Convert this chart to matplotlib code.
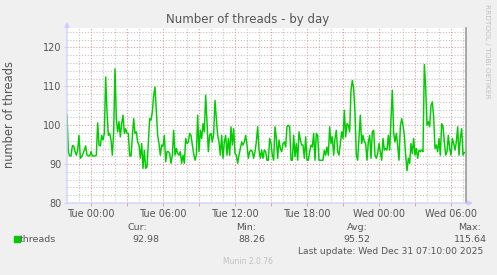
import numpy as np
import matplotlib
matplotlib.use('agg')
import matplotlib.pyplot as plt

# threads, sampled every 1/9 h starting two hours before Tue 00:00
threads = [
    102.7, 93.2, 92.1, 92.1, 94.7, 94.7, 93.2, 92.3, 93.6, 97.4,
    91.5, 91.9, 92.7, 93.6, 94.7, 92.3, 92.1, 92.1, 93.2, 92.1,
    92.1, 92.1, 92.3, 100.6, 94.9, 94.7, 97.4, 96.2, 97.9, 112.4,
    103.4, 97.4, 97.9, 96.2, 92.3, 98.3, 114.5, 101.7, 98.3, 100.9,
    97.0, 100.4, 102.6, 97.9, 99.1, 97.9, 97.9, 92.1, 92.1, 97.0,
    101.7, 97.9, 98.3, 95.7, 94.9, 91.5, 95.3, 88.9, 93.6, 88.9,
    89.3, 95.7, 101.7, 101.3, 103.4, 107.7, 109.8, 103.8, 97.4, 95.3,
    92.3, 94.9, 94.5, 97.4, 90.6,
    93.2, 93.2, 92.7, 90.2, 92.3, 98.7, 92.3, 94.0, 92.7, 92.3,
    93.2, 90.2, 92.3, 90.2, 96.6, 95.3, 95.7, 97.9, 97.4, 94.9,
    92.7, 91.0, 92.3, 102.6, 93.2, 98.7, 96.6, 100.4, 98.3, 107.7,
    100.9, 93.2, 97.4, 97.9, 95.7, 97.9, 106.4, 101.7, 97.4, 95.7,
    92.3, 97.4, 91.5, 95.7, 97.4, 92.3, 96.6, 92.3, 99.6, 94.9,
    99.1, 92.7, 92.3, 90.2, 92.3, 94.0, 95.7, 94.9, 95.7, 97.4,
    94.9, 91.5, 93.2, 93.6, 93.2, 91.5, 93.2, 95.7, 99.6, 93.6,
    91.5, 93.6, 91.5, 93.6, 93.2,
    91.0, 91.0, 96.6, 95.3, 92.3, 91.0, 99.6, 96.6, 91.5, 96.2,
    94.0, 93.2, 95.3, 95.7, 94.4, 99.6, 100.0, 99.6, 91.0, 91.0,
    97.4, 91.9, 95.3, 91.0, 98.3, 96.2, 94.9, 94.9, 91.5, 97.0,
    91.0, 91.0, 93.2, 94.9, 94.4, 97.9, 91.0, 97.9, 97.4, 91.0,
    91.0, 91.0, 91.0, 93.6, 92.3, 94.4, 92.3, 99.6, 95.3, 97.0,
    92.3, 96.6, 98.7, 93.2, 92.3, 95.3, 98.3, 96.6, 103.8, 97.0,
    100.4, 100.0, 98.3, 109.0, 111.5, 109.4, 103.0, 92.3, 91.0, 96.6,
    102.6, 95.3, 97.4, 95.7, 95.3,
    91.0, 95.7, 97.4, 91.5, 98.3, 98.7, 92.3, 91.5, 92.7, 95.3,
    93.2, 91.0, 96.6, 93.6, 94.0, 93.6, 97.4, 93.6, 101.7, 109.0,
    97.9, 95.7, 97.9, 94.9, 91.0, 99.6, 101.7, 100.0, 97.4, 92.3,
    88.3, 91.5, 90.2, 95.3, 92.7, 96.6, 92.3, 94.0, 91.5, 93.6,
    93.2, 93.6, 93.2, 115.6, 109.8, 100.0, 100.9, 99.6, 105.1, 106.0,
    102.1, 94.0, 94.9, 93.2, 96.6, 92.3, 100.4, 99.6, 95.7, 92.3,
    93.2, 97.4, 94.0, 92.3, 96.6, 95.3, 93.6, 95.7, 99.6, 92.3,
    96.6, 99.1, 92.3, 93.0,
]
start_hour = -2.0
step_hour = 1 / 9
tick_hours = [0, 6, 12, 18, 24, 30]
tick_labels = ['Tue 00:00', 'Tue 06:00', 'Tue 12:00', 'Tue 18:00', 'Wed 00:00', 'Wed 06:00']
legend_heads = ['Cur:', 'Min:', 'Avg:', 'Max:']
legend_values = ['92.98', '88.26', '95.52', '115.64']

hours = start_hour + step_hour * np.arange(len(threads))

bg = '#F0F0F0'
txt = '#555555'
axis_col = '#CCCCFF'
minor_col = '#C4C4C4'
major_col = '#DC9C9C'

fig = plt.figure(figsize=(4.97, 2.75), dpi=100)
fig.patch.set_facecolor(bg)
ax = fig.add_axes([67 / 497, 72 / 275, 399 / 497, 175 / 275])
ax.set_facecolor('white')

ax.set_xlim(-2, 31.25)
ax.set_ylim(80, 125)

# grid: minor grey every hour / 2 threads, major red every 3 hours / 10 threads
dots = (0, (1, 1.6))
for h in np.arange(-1, 32, 1):
    if h % 3 != 0:
        ax.axvline(h, color=minor_col, lw=0.8, ls=dots, zorder=1)
for v in np.arange(82, 125, 2):
    if v % 10 != 0:
        ax.axhline(v, color=minor_col, lw=0.8, ls=dots, zorder=1)
for h in np.arange(0, 32, 3):
    ax.axvline(h, color=major_col, lw=0.8, ls=dots, zorder=1)
for v in [90, 100, 110, 120]:
    ax.axhline(v, color=major_col, lw=0.8, ls=dots, zorder=1)

ax.plot(hours, threads, color='#00CC00', lw=1.05, zorder=3)

ax.spines['top'].set_visible(False)
ax.spines['left'].set_visible(False)
ax.spines['bottom'].set_visible(False)
ax.spines['right'].set_color('#999999')
ax.spines['right'].set_linewidth(1.2)

ax.set_xticks(np.arange(0, 32, 3))
ax.set_xticklabels([tick_labels[tick_hours.index(h)] if h in tick_hours else '' for h in range(0, 32, 3)])
ax.set_yticks([80, 90, 100, 110, 120])
ax.tick_params(axis='both', colors=major_col, length=2, width=0.7, labelsize=7.0,
               labelcolor=txt, pad=2)
ax.tick_params(axis='y', colors=axis_col, labelcolor=txt)

# axes with arrows, drawn in figure pixels
ax.annotate('', xy=(67 / 497, 1 - 22 / 275), xycoords='figure fraction',
            xytext=(67 / 497, 1 - 203 / 275),
            arrowprops=dict(arrowstyle='-|>', color=axis_col, lw=0.9, mutation_scale=7,
                            shrinkA=0, shrinkB=0))
ax.annotate('', xy=(473 / 497, 1 - 203 / 275), xycoords='figure fraction',
            xytext=(67 / 497, 1 - 203 / 275),
            arrowprops=dict(arrowstyle='-|>', color=axis_col, lw=0.9, mutation_scale=7,
                            shrinkA=0, shrinkB=0))

fig.text(248 / 497, 1 - 20 / 275, 'Number of threads - by day', ha='center', va='center',
         fontsize=8.5, color=txt)
fig.text(10 / 497, 1 - 115 / 275, 'number of threads', rotation=90, ha='center', va='center',
         fontsize=8.3, color=txt)
fig.text(487 / 497, 1 - 51 / 275, 'RRDTOOL / TOBI OETIKER', rotation=270, ha='center',
         va='center', fontsize=5.3, color='#C0C0C0')

# legend
fig.patches.append(plt.Rectangle((14 / 497, 1 - 242 / 275), 6 / 497, 6 / 275,
                                 transform=fig.transFigure, color='#00CC00'))
fig.text(20 / 497, 1 - 239 / 275, 'threads', ha='left', va='center', fontsize=6.8, color=txt)
head_x = [137, 246, 357, 470]
val_x = [146, 252, 357, 470]
for hx, vx, hd, vl in zip(head_x, val_x, legend_heads, legend_values):
    fig.text(hx / 497, 1 - 227 / 275, hd, ha='center', va='center', fontsize=6.8, color=txt)
    fig.text(vx / 497, 1 - 239 / 275, vl, ha='center', va='center', fontsize=6.8, color=txt)
fig.text(483 / 497, 1 - 251 / 275, 'Last update: Wed Dec 31 07:10:00 2025', ha='right',
         va='center', fontsize=6.6, color=txt)
fig.text(248 / 497, 1 - 262 / 275, 'Munin 2.0.76', ha='center', va='center',
         fontsize=5.5, color='#C0C0C0')

fig.savefig('out.png', dpi=100, facecolor=bg)
